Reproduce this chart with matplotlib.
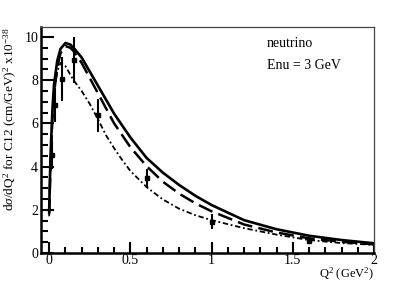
import matplotlib
matplotlib.use("Agg")
import matplotlib.pyplot as plt
from matplotlib.ticker import MultipleLocator, FixedLocator

plt.rcParams['font.family'] = ['Liberation Serif', 'DejaVu Serif']
plt.rcParams['mathtext.fontset'] = 'custom'
plt.rcParams['mathtext.rm'] = 'Liberation Serif'
plt.rcParams['mathtext.it'] = 'Liberation Serif:italic'
plt.rcParams['mathtext.bf'] = 'Liberation Serif:bold'

# data points
data_q2 = [0.016, 0.037, 0.078, 0.15, 0.30, 0.60, 1.005, 1.60]
data_xs = [4.55, 6.85, 8.05, 8.93, 6.37, 3.46, 1.45, 0.57]
data_err = [0.65, 0.8, 1.0, 1.05, 0.75, 0.45, 0.35, 0.12]

# solid curve
solid_q2 = [0.0, 0.005, 0.01, 0.02, 0.03, 0.05, 0.07, 0.1, 0.13, 0.15, 0.2, 0.25,
            0.3, 0.4, 0.5, 0.6, 0.7, 0.8, 0.9, 1.0, 1.2, 1.4, 1.6, 1.8, 2.0]
solid_xs = [1.9, 3.5, 4.8, 6.6, 7.8, 8.9, 9.45, 9.72, 9.65, 9.5, 9.05, 8.4,
            7.75, 6.45, 5.35, 4.4, 3.72, 3.15, 2.65, 2.22, 1.52, 1.1, 0.8, 0.6, 0.45]

# dashed curve
dash_q2 = [0.0, 0.005, 0.01, 0.02, 0.03, 0.05, 0.07, 0.1, 0.13, 0.15, 0.2, 0.25,
           0.3, 0.4, 0.5, 0.6, 0.7, 0.8, 0.9, 1.0, 1.2, 1.4, 1.6, 1.8, 2.0]
dash_xs = [1.8, 3.1, 4.3, 6.2, 7.4, 8.6, 9.25, 9.58, 9.5, 9.35, 8.8, 8.1,
           7.4, 6.0, 4.9, 4.02, 3.3, 2.75, 2.3, 1.93, 1.32, 0.95, 0.68, 0.52, 0.4]

# dash-dotted curve
dd_q2 = [0.0, 0.005, 0.01, 0.02, 0.03, 0.05, 0.07, 0.1, 0.15, 0.2, 0.25, 0.3,
         0.35, 0.4, 0.45, 0.5, 0.6, 0.7, 0.8, 0.9, 1.0, 1.2, 1.4, 1.6, 1.8, 2.0]
dd_xs = [1.7, 3.2, 4.5, 6.3, 7.4, 8.4, 8.8, 8.65, 8.0, 7.5, 6.9, 6.2,
         5.45, 4.85, 4.3, 3.8, 3.05, 2.48, 2.05, 1.75, 1.52, 1.15, 0.85, 0.6, 0.46, 0.38]

x_ticks = [0, 0.5, 1, 1.5, 2]
x_ticklabels = ["0", "0.5", "1", "1.5", "2"]
y_ticks = [0, 2, 4, 6, 8, 10]
y_ticklabels = ["0", "2", "4", "6", "8", "10"]

fig = plt.figure(figsize=(4.16, 2.82), dpi=100)
ax = fig.add_axes([0.0986, 0.1028, 0.8005, 0.8014])

ax.plot(solid_q2, solid_xs, color='black', lw=1.9, solid_capstyle='round')
ax.plot(dash_q2, dash_xs, color='black', lw=1.8, linestyle=(0, (6, 2.5)))
ax.plot(dd_q2, dd_xs, color='black', lw=1.3, linestyle=(0, (3, 1.5, 1, 1.5)))
ax.errorbar(data_q2, data_xs, yerr=data_err, fmt='s', color='black', ms=3.5,
            elinewidth=1.5, capsize=0)

ax.set_xlim(-0.05, 2.0)
ax.set_ylim(0, 10.46)

ax.xaxis.set_major_locator(FixedLocator(x_ticks))
ax.set_xticklabels(x_ticklabels)
ax.xaxis.set_minor_locator(MultipleLocator(0.1))
ax.yaxis.set_major_locator(FixedLocator(y_ticks))
ax.set_yticklabels(y_ticklabels)
ax.yaxis.set_minor_locator(MultipleLocator(0.5))

ax.tick_params(which='both', direction='in', top=False, right=False, labelsize=10,
               width=1.5, color='black')
ax.tick_params(axis='y', which='major', length=9, pad=2)
ax.tick_params(axis='y', which='minor', length=5)
ax.tick_params(axis='x', which='major', length=8, pad=0.5)
ax.tick_params(axis='x', which='minor', length=4)

ax.spines['left'].set_linewidth(1.8)
ax.spines['bottom'].set_linewidth(1.8)
ax.spines['top'].set_linewidth(0.9)
ax.spines['right'].set_linewidth(0.9)
ax.spines['top'].set_color('#444444')
ax.spines['right'].set_color('#444444')

ax.text(1.34, 9.7, "neutrino", fontsize=10, ha='left', va='center')
ax.text(1.34, 8.7, "Enu = 3 GeV", fontsize=10, ha='left', va='center')

ax.set_ylabel(r"d$\sigma$/dQ$^{2}$ for C12 (cm/GeV)$^{2}$ x10$^{-38}$", fontsize=9.5,
              loc='top', labelpad=4)
ax.set_xlabel(r"Q$^{2}$ (GeV$^{2}$)", fontsize=9, loc='right')
ax.xaxis.set_label_coords(1.0, -0.056)
ax.xaxis.label.set_verticalalignment('top')

fig.savefig("out.png", dpi=100)
